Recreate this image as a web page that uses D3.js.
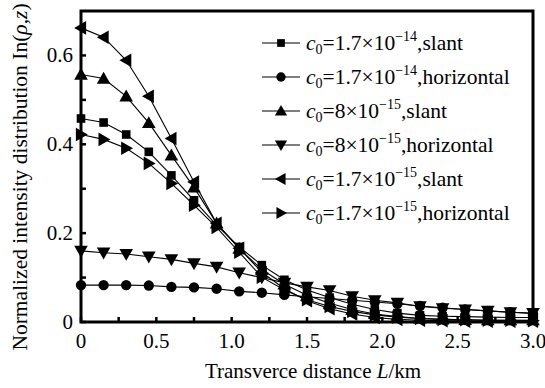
<!DOCTYPE html>
<html><head><meta charset="utf-8">
<script src="https://cdn.jsdelivr.net/npm/d3@7"></script>
<style>body{margin:0;background:#fff}svg{display:block}</style>
</head><body><svg id="c" width="545" height="388" font-family="'Liberation Serif', 'Times New Roman', Times, serif"></svg>
<script>
const xs = [0,0.15,0.3,0.45,0.6,0.75,0.9,1.05,1.2,1.35,1.5,1.65,1.8,1.95,2.1,2.25,2.4,2.55,2.7,2.85,3.0];
const sSlant14 = [0.458,0.449,0.422,0.383,0.330,0.274,0.218,0.169,0.128,0.095,0.072,0.055,0.040,0.028,0.020,0.015,0.013,0.012,0.011,0.010,0.010];
const sHoriz14 = [0.083,0.083,0.083,0.082,0.079,0.078,0.075,0.069,0.066,0.061,0.057,0.053,0.049,0.045,0.041,0.036,0.032,0.028,0.025,0.022,0.019];
const sSlant8 = [0.557,0.548,0.508,0.448,0.375,0.303,0.222,0.165,0.118,0.085,0.060,0.042,0.028,0.018,0.012,0.008,0.006,0.005,0.004,0.004,0.004];
const sHoriz8 = [0.160,0.156,0.153,0.147,0.141,0.132,0.124,0.111,0.100,0.088,0.079,0.071,0.058,0.049,0.043,0.035,0.031,0.028,0.025,0.022,0.020];
const sSlant17 = [0.662,0.641,0.589,0.508,0.413,0.315,0.222,0.166,0.112,0.075,0.048,0.030,0.018,0.010,0.006,0.004,0.003,0.002,0.002,0.002,0.002];
const sHoriz17 = [0.422,0.411,0.391,0.357,0.312,0.263,0.213,0.157,0.101,0.072,0.050,0.035,0.024,0.016,0.011,0.008,0.006,0.005,0.004,0.004,0.003];
const seriesNames = [["1.7×10","−14","slant"],["1.7×10","−14","horizontal"],["8×10","−15","slant"],["8×10","−15","horizontal"],["1.7×10","−15","slant"],["1.7×10","−15","horizontal"]];
const markers = ["square","circle","up","down","left","right"];
const seriesVals = [sSlant14,sHoriz14,sSlant8,sHoriz8,sSlant17,sHoriz17];
const xTicks = [0,0.5,1.0,1.5,2.0,2.5,3.0];
const xMinor = [0.25,0.75,1.25,1.75,2.25,2.75];
const yTicks = [0,0.2,0.4,0.6];
const yMinor = [0.1,0.3,0.5];

const svg = d3.select("#c");
const L=81,R=533,T=11,B=322;
const x = d3.scaleLinear().domain([0,3]).range([L,R]);
const y = d3.scaleLinear().domain([0,0.7]).range([B,T]);

const line = d3.line().x((d,i)=>x(xs[i])).y(d=>y(d));
const g = svg.append("g");
function marker(sel,type,cx,cy,sc){
  sc = sc||1;
  if(type==="square") sel.append("rect").attr("x",cx-4.3*sc).attr("y",cy-4.3*sc).attr("width",8.6*sc).attr("height",8.6*sc);
  else if(type==="circle") sel.append("circle").attr("cx",cx).attr("cy",cy).attr("r",5.2*sc);
  else {
    const s=6.8*sc, pts={up:[[0,-s],[s,s*0.75],[-s,s*0.75]],down:[[0,s],[s,-s*0.75],[-s,-s*0.75]],left:[[-s,0],[s*0.75,-s],[s*0.75,s]],right:[[s,0],[-s*0.75,-s],[-s*0.75,s]]}[type];
    sel.append("path").attr("d","M"+pts.map(p=>[cx+p[0],cy+p[1]].join(",")).join("L")+"Z");
  }
}
seriesVals.forEach((vals,k)=>{
  g.append("path").attr("d",line(vals)).attr("fill","none").attr("stroke","#000").attr("stroke-width",1.1);
  const mg = g.append("g").attr("fill","#000");
  vals.forEach((v,i)=>marker(mg,markers[k],x(xs[i]),y(v)));
});

svg.append("rect").attr("x",L).attr("y",T).attr("width",R-L).attr("height",B-T).attr("fill","none").attr("stroke","#000").attr("stroke-width",3);
const tk = svg.append("g").attr("stroke","#000").attr("stroke-width",2.5);
xTicks.concat(xMinor).forEach(t=>tk.append("line").attr("x1",x(t)).attr("x2",x(t)).attr("y1",B).attr("y2",B-5));
yTicks.concat(yMinor).forEach(t=>tk.append("line").attr("x1",L).attr("x2",L+5).attr("y1",y(t)).attr("y2",y(t)));
svg.append("g").selectAll("text").data(xTicks).join("text").attr("x",d=>x(d)).attr("y",B+26).attr("text-anchor","middle").attr("font-size",21).text(d=>d===0?"0":d3.format(".1f")(d));
svg.append("g").selectAll("text").data(yTicks).join("text").attr("x",L-8).attr("y",d=>y(d)+7).attr("text-anchor","end").attr("font-size",21).text(d=>d===0?"0":d3.format(".1f")(d));

const xt = svg.append("text").attr("x",313).attr("y",378).attr("text-anchor","middle").attr("font-size",21);
xt.append("tspan").text("Transverce distance ");
xt.append("tspan").attr("font-style","italic").text("L");
xt.append("tspan").text("/km");
const yt = svg.append("text").attr("transform","translate(27,177) rotate(-90)").attr("text-anchor","middle").attr("font-size",21.5);
yt.append("tspan").text("Normalized intensity distribution In(");
yt.append("tspan").attr("font-style","italic").text("ρ,z");
yt.append("tspan").text(")");

const lg = svg.append("g");
seriesNames.forEach((n,k)=>{
  const cy = 43 + k*34;
  lg.append("line").attr("x1",262).attr("x2",300).attr("y1",cy).attr("y2",cy).attr("stroke","#000").attr("stroke-width",1.1);
  const mg = lg.append("g").attr("fill","#000");
  marker(mg,markers[k],281,cy,0.9);
  const t = lg.append("text").attr("x",306).attr("y",cy+7).attr("font-size",21.5);
  t.append("tspan").attr("font-style","italic").text("c");
  t.append("tspan").attr("font-size",14).attr("dy",4).text("0");
  t.append("tspan").attr("dy",-4).text("="+n[0]);
  t.append("tspan").attr("font-size",14).attr("dy",-9).text(n[1]);
  t.append("tspan").attr("dy",9).text(","+n[2]);
});
</script></body></html>
